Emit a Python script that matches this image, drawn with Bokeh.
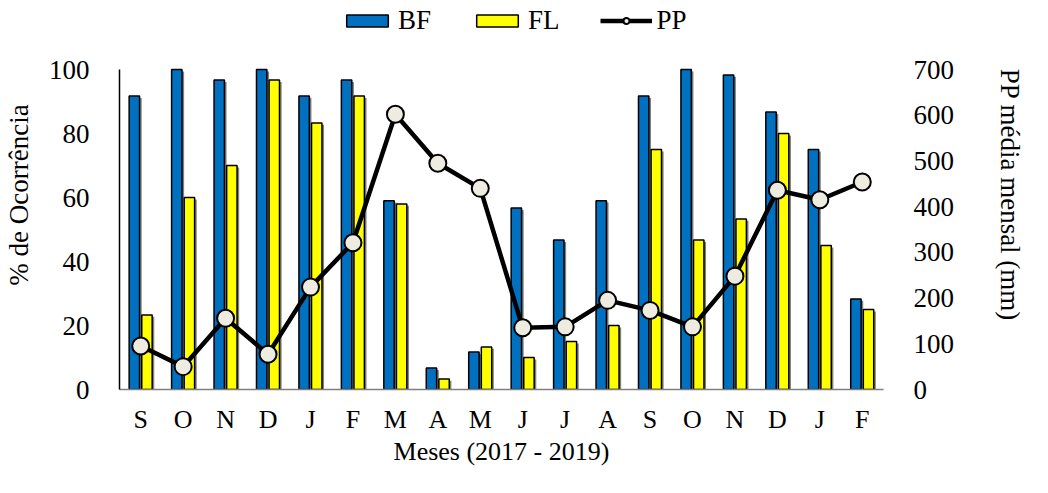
from bokeh.plotting import figure
from bokeh.models import (ColumnDataSource, Range1d, LinearAxis, FixedTicker,
                          Legend, LegendItem)
from bokeh.embed import file_html
from bokeh.resources import INLINE

months = ["S", "O", "N", "D", "J", "F", "M", "A", "M", "J", "J", "A",
          "S", "O", "N", "D", "J", "F"]
bf = [91.7, 100, 96.7, 100, 91.7, 96.7, 59, 6.7, 11.7, 56.7, 46.7, 59,
      91.7, 100, 98.3, 86.7, 75, 28.3]
fl = [23.3, 60, 70, 96.7, 83.3, 91.7, 58, 3.3, 13.3, 10, 15, 20,
      75, 46.7, 53.3, 80, 45, 25]
pp = [95, 50, 156, 77, 224, 321, 602, 495, 440, 135, 137, 195,
      173, 137, 248, 436, 415, 454]
left_ticks = [0, 20, 40, 60, 80, 100]
right_ticks = [0, 100, 200, 300, 400, 500, 600, 700]

FONT = "Liberation Serif"
FS = "27px"
FSX = "26px"
W, H = 1028, 468
B_LEFT, B_RIGHT, B_TOP, B_BOTTOM = 115, 139, 0, 79
AXIS_H = 320                      # pixel height of the 0..100 axis span
FRAME_H = H - B_TOP - B_BOTTOM    # frame also holds the legend above the axes
scale = FRAME_H / AXIS_H

x = list(range(len(months)))
src = ColumnDataSource(dict(x=x, bf=bf, fl=fl, pp=pp,
                            xb=[i - 0.15 for i in x], xf=[i + 0.147 for i in x],
                            xbs=[i - 0.15 + 0.05 for i in x],
                            xfs=[i + 0.147 + 0.05 for i in x],
                            bfs=[v - 0.6 for v in bf], fls=[v - 0.6 for v in fl]))

p = figure(width=W, height=H, output_backend="svg", toolbar_location=None,
           x_range=Range1d(-0.5, len(months) - 0.5),
           y_range=Range1d(0, left_ticks[-1] * scale),
           min_border_left=B_LEFT, min_border_right=B_RIGHT,
           min_border_top=B_TOP, min_border_bottom=B_BOTTOM)
p.outline_line_color = None
p.grid.visible = False
p.extra_y_ranges = {"pp": Range1d(0, right_ticks[-1] * scale)}

# bar shadows
p.vbar(x="xbs", top="bfs", width=0.245, source=src, fill_color="#808080",
       line_color=None)
p.vbar(x="xfs", top="fls", width=0.245, source=src, fill_color="#808080",
       line_color=None)
r_bf = p.vbar(x="xb", top="bf", width=0.245, source=src, fill_color="#0070C0",
              line_color="black", line_width=1.5)
r_fl = p.vbar(x="xf", top="fl", width=0.245, source=src, fill_color="#FFFF00",
              line_color="black", line_width=1.5)
r_line = p.line(x="x", y="pp", source=src, y_range_name="pp", line_color="black",
                line_width=4.5)
r_pt = p.scatter(x="x", y="pp", source=src, y_range_name="pp", size=17,
                 fill_color="#EEECE1", line_color="black", line_width=2)

# axes
xa = p.xaxis[0]
xa.ticker = FixedTicker(ticks=x)
xa.major_label_overrides = {i: m for i, m in enumerate(months)}
xa.axis_label = "Meses (2017 - 2019)"
xa.axis_line_color = "#7F7F7F"
xa.axis_line_width = 1.5
xa.major_tick_line_color = None
xa.minor_tick_line_color = None
xa.major_label_standoff = 9
xa.axis_label_standoff = 0

ya = p.yaxis[0]
ya.ticker = FixedTicker(ticks=left_ticks)
ya.bounds = (left_ticks[0], left_ticks[-1])
ya.axis_label = "% de Ocorrência"
ya.axis_line_color = "black"
ya.axis_line_width = 1.5
ya.major_tick_line_color = None
ya.minor_tick_line_color = None
ya.major_label_standoff = 24
ya.axis_label_standoff = 12

ra = LinearAxis(y_range_name="pp", ticker=FixedTicker(ticks=right_ticks),
                bounds=(right_ticks[0], right_ticks[-1]),
                axis_label="PP média mensal (mm)")
ra.axis_line_color = None
ra.major_tick_line_color = None
ra.minor_tick_line_color = None
ra.major_label_standoff = 24
ra.axis_label_standoff = 38
p.add_layout(ra, "right")

for ax, fs in ((xa, FSX), (ya, FS), (ra, FS)):
    ax.major_label_text_font = FONT
    ax.major_label_text_font_size = fs
    ax.major_label_text_color = "black"
    ax.axis_label_text_font = FONT
    ax.axis_label_text_font_size = fs
    ax.axis_label_text_font_style = "normal"
    ax.axis_label_text_color = "black"

# location = bottom-left corner of the legend, px from the frame's bottom-left
legend = Legend(items=[LegendItem(label="BF", renderers=[r_bf]),
                       LegendItem(label="FL", renderers=[r_fl]),
                       LegendItem(label="PP", renderers=[r_line, r_pt])],
                orientation="horizontal", location=(222, 353),
                label_text_font=FONT, label_text_font_size=FS,
                label_text_color="black",
                glyph_width=52, glyph_height=15, label_standoff=5,
                spacing=40, padding=2, margin=0, border_line_color=None,
                background_fill_alpha=0)
p.add_layout(legend)

open("out.html", "w").write(file_html(p, INLINE))
